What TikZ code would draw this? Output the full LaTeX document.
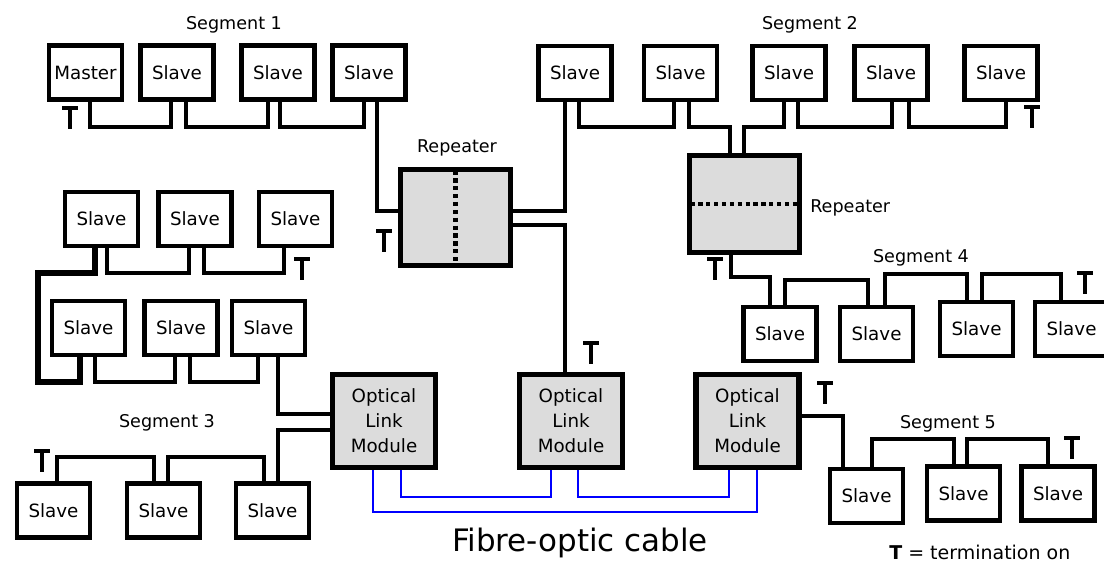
\documentclass[tikz,border=0pt]{standalone}
\usepackage{fontspec}
\setmainfont{DejaVu Sans}
\definecolor{boxgrey}{RGB}{220,220,220}
\definecolor{fibreblue}{RGB}{0,0,255}
\begin{document}
\begin{tikzpicture}[x=0.025cm,y=-0.025cm,
  box/.style={draw,line width=3.5pt,fill=white,minimum width=1.825cm,minimum height=1.35cm,inner sep=0pt,font=\fontsize{13}{15}\selectfont},
  greybox/.style={draw,line width=3.8pt,fill=boxgrey,inner sep=0pt,align=center,font=\fontsize{13}{17.7}\selectfont},
  rep/.style={greybox,minimum width=2.75cm,minimum height=2.4cm},
  olm/.style={greybox,minimum width=2.575cm,minimum height=2.325cm},
  bus/.style={line width=2.8pt},
  thickbus/.style={line width=4.2pt},
  fibre/.style={line width=1.1pt,draw=fibreblue},
  repdiv/.style={line width=3pt,dash pattern=on 3pt off 2.6pt},
  lbl/.style={font=\fontsize{12.5}{14}\selectfont,inner sep=0pt},
  tee/.pic={\draw[line width=3.3pt] (-8,0) -- (8,0); \draw[line width=3.3pt] (0,0) -- (0,21);}
]
\useasboundingbox (0,0) rectangle (1104,567);

% ---------- nodes ----------
% segment 1
\node[box] (m)   at (85.5,72.5) {Master};
\node[box] (s11) at (177,72.5) {Slave};
\node[box] (s12) at (278,72.5) {Slave};
\node[box] (s13) at (369,72.5) {Slave};
% segment 2
\node[box] (s21) at (575,73) {Slave};
\node[box] (s22) at (680.5,73) {Slave};
\node[box] (s23) at (789,73) {Slave};
\node[box] (s24) at (891,73) {Slave};
\node[box] (s25) at (1001,73) {Slave};
% segment 3 rows
\node[box] (a1) at (101.5,219) {Slave};
\node[box] (a2) at (195,219) {Slave};
\node[box] (a3) at (295.5,219) {Slave};
\node[box] (b1) at (88.5,328) {Slave};
\node[box] (b2) at (181,328) {Slave};
\node[box] (b3) at (268.5,328) {Slave};
\node[box] (c1) at (53.5,510.5) {Slave};
\node[box] (c2) at (163.5,510.5) {Slave};
\node[box] (c3) at (272.5,510.5) {Slave};
% segment 4
\node[box] (d1) at (780,334) {Slave};
\node[box] (d2) at (876.5,334) {Slave};
\node[box] (d3) at (976.5,329) {Slave};
\node[box] (d4) at (1071.5,329) {Slave};
% segment 5
\node[box] (e1) at (866.5,496) {Slave};
\node[box] (e2) at (963.5,493.5) {Slave};
\node[box] (e3) at (1058,493.5) {Slave};
% repeaters and optical link modules
\node[rep] (rep1) at (455.5,217.5) {};
\node[rep,minimum height=2.425cm] (rep2) at (744.5,204) {};
\node[olm] (olm1) at (384,421) {Optical\\Link\\Module};
\node[olm] (olm2) at (571,421) {Optical\\Link\\Module};
\node[olm] (olm3) at (747.5,421) {Optical\\Link\\Module};
\draw[repdiv] ([yshift=-2.6pt]rep1.north) -- ([yshift=2.6pt]rep1.south);
\draw[repdiv] ([xshift=2.6pt]rep2.west) -- ([xshift=-2.6pt]rep2.east);

% ---------- labels ----------
\node[lbl] (l1) at (234,25) {Segment 1};
\node[lbl] (l2) at (810,25) {Segment 2};
\node[lbl] (l3) at (167,423) {Segment 3};
\node[lbl] (l4) at (921,258) {Segment 4};
\node[lbl] (l5) at (948,424) {Segment 5};
\node[lbl] (lr1) at (457,148) {Repeater};
\node[lbl,anchor=west] (lr2) at (810,208) {Repeater};
\node[font=\fontsize{22}{25}\selectfont,inner sep=0pt] (fib) at (580,543) {Fibre-optic cable};
\node[font=\fontsize{13.5}{15}\selectfont,inner sep=0pt,anchor=west] (leg) at (889,552) {\textbf{T} = termination on};

% ---------- segment 1 bus ----------
\draw[bus] (m.south -| 90,0) |- (171,127) -- (s11.south -| 171,0);
\draw[bus] (s11.south -| 186,0) |- (268,127) -- (s12.south -| 268,0);
\draw[bus] (s12.south -| 280,0) |- (364,127) -- (s13.south -| 364,0);
\draw[bus] (s13.south -| 377,0) |- (rep1.west |- 0,211);
\pic at (70,108) {tee};
\pic at (384,231) {tee};

% ---------- repeater 1 to segment 2 / OLM2 ----------
\draw[bus] (rep1.east |- 0,211) -| (s21.south -| 565,0);
\draw[bus] (rep1.east |- 0,225) -| (olm2.north -| 565,0);
\pic at (591,343) {tee};

% ---------- segment 2 bus ----------
\draw[bus] (s21.south -| 579,0) |- (674,127) -- (s22.south -| 674,0);
\draw[bus] (s22.south -| 689,0) |- (730,127) -- (rep2.north -| 730,0);
\draw[bus] (rep2.north -| 744,0) |- (784,127) -- (s23.south -| 784,0);
\draw[bus] (s23.south -| 798,0) |- (892,127) -- (s24.south -| 892,0);
\draw[bus] (s24.south -| 909,0) |- (1006,127) -- (s25.south -| 1006,0);
\pic at (1032,107) {tee};

% ---------- segment 4 bus ----------
\draw[bus] (rep2.south -| 731,0) |- (770,277) -- (d1.north -| 770,0);
\draw[bus] (d1.north -| 785,0) |- (868,280) -- (d2.north -| 868,0);
\draw[bus] (d2.north -| 885,0) |- (967,274) -- (d3.north -| 967,0);
\draw[bus] (d3.north -| 982,0) |- (1061,274) -- (d4.north -| 1061,0);
\pic at (715,259) {tee};
\pic at (1085,273) {tee};

% ---------- segment 5 bus ----------
\draw[bus] (olm3.east |- 0,416) -| (e1.north -| 843,0);
\draw[bus] (e1.north -| 872,0) |- (954,439) -- (e2.north -| 954,0);
\draw[bus] (e2.north -| 967,0) |- (1048,439) -- (e3.north -| 1048,0);
\pic at (825,383) {tee};
\pic at (1072,438) {tee};

% ---------- segment 3 bus ----------
\draw[thickbus] (a1.south -| 95,0) |- (38,273) |- (80,382) -- (b1.south -| 80,0);
\draw[bus] (a1.south -| 107,0) |- (189,273) -- (a2.south -| 189,0);
\draw[bus] (a2.south -| 204,0) |- (284,273) -- (a3.south -| 284,0);
\pic at (302,259) {tee};
\draw[bus] (b1.south -| 95,0) |- (175,382) -- (b2.south -| 175,0);
\draw[bus] (b2.south -| 190,0) |- (258,382) -- (b3.south -| 258,0);
\draw[bus] (b3.south -| 278,0) |- (olm1.west |- 0,414);
\draw[bus] (olm1.west |- 0,430) -| (c3.north -| 278,0);
\draw[bus] (c1.north -| 57,0) |- (154,457) -- (c2.north -| 154,0);
\draw[bus] (c2.north -| 168,0) |- (264,457) -- (c3.north -| 264,0);
\pic at (42,451) {tee};

% ---------- fibre-optic cable ----------
\draw[fibre] (olm1.south -| 373,0) |- (757,512) -- (olm3.south -| 757,0);
\draw[fibre] (olm1.south -| 401,0) |- (551,497) -- (olm2.south -| 551,0);
\draw[fibre] (olm2.south -| 578,0) |- (729,497) -- (olm3.south -| 729,0);
\end{tikzpicture}
\end{document}
